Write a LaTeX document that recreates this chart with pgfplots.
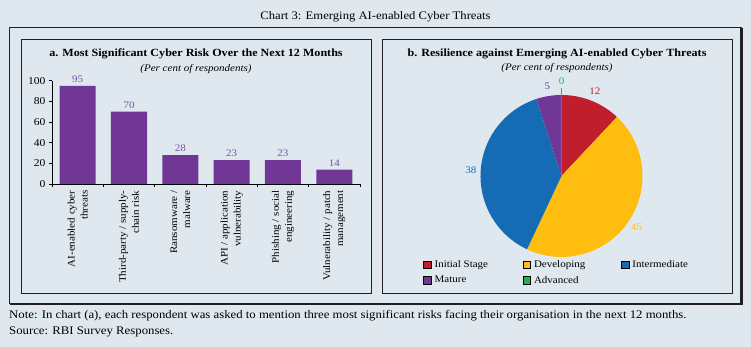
\documentclass[border=0pt]{standalone}
\usepackage{fontspec}
\setmainfont{Liberation Serif}[FakeStretch=1.1]
\usepackage{pgfplots}
\usepackage{pgfplotstable}
\pgfplotsset{compat=1.18}

\definecolor{bg}{RGB}{223,232,239}
\definecolor{frame}{RGB}{35,31,32}
\definecolor{barpurple}{RGB}{112,55,150}
\definecolor{vallab}{RGB}{120,80,165}
\definecolor{pRed}{RGB}{192,30,45}
\definecolor{pYellow}{RGB}{255,190,15}
\definecolor{pBlue}{RGB}{22,108,180}
\definecolor{pPurple}{RGB}{112,55,150}
\definecolor{pGreen}{RGB}{40,175,80}

\pgfplotstableread{
x value
0 95
1 70
2 28
3 23
4 23
5 14
}\riskdata

\pgfplotstableread[col sep=comma]{
name,value,color
Initial Stage,12,pRed
Developing,45,pYellow
Intermediate,38,pBlue
Mature,5,pPurple
Advanced,0,pGreen
}\piedata

\begin{document}
\begin{tikzpicture}
\path[use as bounding box, fill=bg] (0,0) rectangle (751pt,347pt);
% frames
\draw[frame, line width=1.2pt] (9.5pt,319.5pt) rectangle (741pt,43.5pt);
\draw[frame, line width=2pt] (742pt,318.5pt) -- (742pt,42.5pt) -- (10pt,42.5pt);
\draw[frame, line width=0.9pt] (21pt,308pt) rectangle (371pt,54pt);
\draw[frame, line width=0.9pt] (382pt,308pt) rectangle (732pt,54pt);

% texts
\node[font=\fontsize{11.5}{13}\selectfont] at (375.5pt,330pt) {Chart 3: Emerging AI-enabled Cyber Threats};
\node[font=\bfseries\fontsize{11}{12}\selectfont] at (196pt,293pt) {a. Most Significant Cyber Risk Over the Next 12 Months};
\node[font=\itshape\fontsize{10}{11}\selectfont] at (196pt,278pt) {(Per cent of respondents)};
\node[font=\bfseries\fontsize{11}{12}\selectfont] at (557pt,293.5pt) {b. Resilience against Emerging AI-enabled Cyber Threats};
\node[font=\itshape\fontsize{10}{11}\selectfont] at (557pt,279pt) {(Per cent of respondents)};
\node[anchor=west, inner sep=0pt, font=\fontsize{11.6}{13}\selectfont] at (9pt,31pt) {Note: In chart (a), each respondent was asked to mention three most significant risks facing their organisation in the next 12 months.};
\node[anchor=west, inner sep=0pt, font=\fontsize{11.6}{13}\selectfont] at (9pt,15pt) {Source: RBI Survey Responses.};

% bar chart
\begin{axis}[
  at={(52pt,163pt)}, anchor=south west,
  scale only axis, width=308pt, height=103.3pt,
  xmin=-0.5, xmax=5.5, ymin=0, ymax=100,
  axis x line*=bottom, axis y line*=left,
  axis line style={line width=0.6pt, black},
  ytick={0,20,...,100},
  xtick={0,...,5},
  xticklabels={{AI-enabled cyber\\threats},{Third-party / supply-\\chain risk},{Ransomware /\\malware},{API / application\\vulnerability},{Phishing / social\\engineering},{Vulnerability / patch\\management}},
  major x tick style={draw=none},
  minor xtick={-0.5,0.5,...,5.5},
  tick align=outside,
  major tick length=3pt, minor tick length=3pt,
  tick style={black, line width=0.6pt},
  xticklabel style={rotate=90, anchor=east, align=right, font=\fontsize{10}{13}\selectfont},
  yticklabel style={font=\fontsize{10.5}{12}\selectfont},
  /pgf/number format/assume math mode=true,
  clip=false,
]
\addplot[ybar, bar width=36pt, fill=barpurple, draw=none,
  nodes near coords,
  nodes near coords style={text=vallab, font=\fontsize{10}{12}\selectfont}]
  table[x=x, y=value] {\riskdata};
\end{axis}

% pie chart
\begin{axis}[
  at={(561.5pt,171pt)}, anchor=center,
  x=81pt, y=81pt,
  xmin=-1.75, xmax=1.75, ymin=-1.3, ymax=1.3,
  hide axis, clip=false,
  legend columns=3,
  legend cell align=left,
  legend image code/.code={\fill[#1] (0pt,-3.75pt) rectangle (7.5pt,3.75pt); \path (9pt,0pt);},
  legend style={at={(0.0115,0.1085)}, anchor=north west, draw=none, fill=none,
    inner sep=0pt, row sep=3pt, font=\fontsize{10}{11}\selectfont},
  /pgf/number format/assume math mode=true,
]
\pgfplotsextra{%
  \gdef\pieacc{0}%
  \pgfplotsforeachungrouped \i in {0,...,4}{%
    \pgfplotstablegetelem{\i}{value}\of\piedata \let\pieV\pgfplotsretval
    \pgfplotstablegetelem{\i}{color}\of\piedata \let\pieC\pgfplotsretval
    \pgfmathsetmacro\pieS{90-3.6*\pieacc}%
    \pgfmathsetmacro\pieE{90-3.6*(\pieacc+\pieV)}%
    \pgfmathsetmacro\pieM{(\pieS+\pieE)/2}%
    \ifdim\pieV pt>0pt
      \fill[fill=\pieC] (axis cs:0,0) -- (axis cs:{cos(\pieS)},{sin(\pieS)}) arc[start angle=\pieS, end angle=\pieE, radius=81pt] -- cycle;
      \node[text=\pieC, font=\fontsize{10}{11}\selectfont] at (axis cs:{1.12*cos(\pieM)},{1.12*sin(\pieM)}) {\pieV};
    \else
      \draw[gray, line width=0.5pt] (axis cs:{cos(\pieM)},{sin(\pieM)}) -- (axis cs:{1.09*cos(\pieM)},{1.09*sin(\pieM)});
      \node[text=\pieC, font=\fontsize{10}{11}\selectfont] at (axis cs:{1.17*cos(\pieM)},{1.17*sin(\pieM)}) {\pieV};
    \fi
    \pgfmathsetmacro\pietmp{\pieacc+\pieV}\xdef\pieacc{\pietmp}%
  }%
}
\addlegendimage{fill=pRed}\addlegendentry{\makebox[86pt][l]{Initial Stage}}
\addlegendimage{fill=pYellow}\addlegendentry{\makebox[85pt][l]{Developing}}
\addlegendimage{fill=pBlue}\addlegendentry{Intermediate}
\addlegendimage{fill=pPurple}\addlegendentry{\makebox[86pt][l]{Mature}}
\addlegendimage{fill=pGreen}\addlegendentry{\makebox[85pt][l]{Advanced}}
\end{axis}
\end{tikzpicture}
\end{document}
